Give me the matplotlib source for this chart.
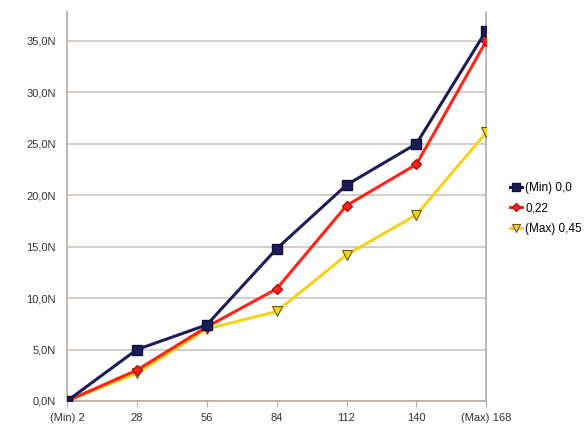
import numpy as np
import matplotlib as mpl
mpl.use('Agg')
import matplotlib.pyplot as plt
from matplotlib.ticker import FuncFormatter

plt.rcParams["font.family"] = "Liberation Sans"

# categories and series
categories = ['(Min) 2', '28', '56', '84', '112', '140', '(Max) 168']
s_min = [0.0, 5.0, 7.4, 14.8, 21.0, 25.0, 36.0]
s_mid = [0.0, 3.0, 7.2, 10.9, 19.0, 23.0, 35.0]
s_max = [0.0, 2.7, 7.0, 8.7, 14.2, 18.1, 26.1]
labels = ['(Min) 0,0', '0,22', '(Max) 0,45']

fig = plt.figure(figsize=(5.88, 4.25), dpi=100)
ax = fig.add_axes([0.114, 0.0565, 0.713, 0.915])

x = np.arange(len(categories))
ax.plot(x, s_min, color='#1c1c5a', lw=2.2, marker='s', ms=7, mec='#10103a', label=labels[0], zorder=5)
ax.plot(x, s_mid, color='#ff2418', lw=2.2, marker='D', ms=5, mec='#b01010', label=labels[1], zorder=4)
ax.plot(x, s_max, color='#f7d21c', lw=2.2, marker='v', ms=7.5, mec='#6a5a10', mew=0.8, label=labels[2], zorder=3)

ax.set_xlim(0, len(categories) - 1)
ax.set_ylim(0, 37.8)
ax.set_yticks(np.arange(0, 36, 5))
ax.yaxis.set_major_formatter(FuncFormatter(lambda v, p: '{:.1f}N'.format(v).replace('.', ',')))
ax.set_xticks(x)
ax.set_xticklabels(categories)
ax.grid(axis='y', color='#cdc5be', lw=1.2)
ax.set_axisbelow(True)
ax.spines['top'].set_visible(False)
for s in ['left', 'right', 'bottom']:
    ax.spines[s].set_color('#b5aca6')
    ax.spines[s].set_linewidth(1.2)
ax.tick_params(axis='y', length=0, labelsize=8, pad=8, colors='#333333')
ax.tick_params(axis='x', length=4, labelsize=8, pad=5, colors='#333333', color='#b5aca6')

ax.legend(loc='center left', bbox_to_anchor=(1.045, 0.495), frameon=False, fontsize=8.5,
          handlelength=1.0, handletextpad=0.3, labelspacing=0.75, borderaxespad=0,
          markerscale=0.75)

plt.savefig('out.png', dpi=100)
